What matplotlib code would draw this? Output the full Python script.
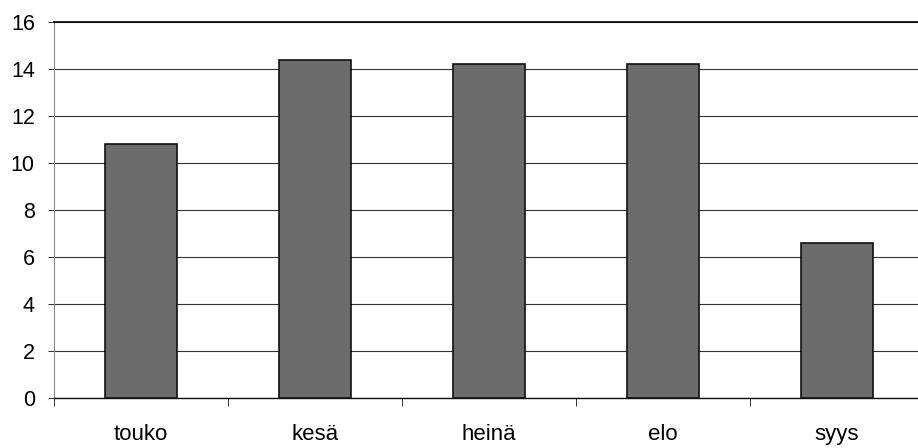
import matplotlib
matplotlib.use("Agg")
import matplotlib.pyplot as plt
import numpy as np

categories = ["touko", "kesä", "heinä", "elo", "syys"]
values = [10.8, 14.4, 14.2, 14.2, 6.6]
yticks = [0, 2, 4, 6, 8, 10, 12, 14, 16]

plt.rcParams['font.family'] = ['Liberation Sans', 'DejaVu Sans']

W, H = 918, 448
fig = plt.figure(figsize=(W/100, H/100), dpi=100)
left, right, top, bottom = 54, 918, 22, 398
ax = fig.add_axes([left/W, 1-bottom/H, (right-left)/W, (bottom-top)/H])

x = np.arange(len(categories))
ax.bar(x, values, width=0.41, color='#6c6c6c', edgecolor='#111111', linewidth=1.2, zorder=3)

span = (right - left) / 174.0
ax.set_xlim(-0.5, -0.5 + span)
ax.set_ylim(0, 16)
ax.set_yticks(yticks)
ax.set_yticklabels([str(v) for v in yticks])
ax.yaxis.grid(True, color='#333333', linewidth=0.8, zorder=0)
ax.set_axisbelow(True)

ax.set_xticks(x)
ax.set_xticklabels(categories)
ax.set_xticks(np.arange(len(categories)) - 0.5, minor=True)
ax.tick_params(axis='x', which='major', length=0, pad=18.5, labelsize=16)
ax.tick_params(axis='x', which='minor', length=5.8, width=0.7, direction='out', color='#333333')
ax.tick_params(axis='y', length=4.3, width=0.7, direction='out', pad=9.5, labelsize=15.5, color='#333333')

ax.spines['right'].set_visible(False)
ax.spines['top'].set_color('#111111')
ax.spines['top'].set_linewidth(1.3)
ax.spines['left'].set_color('#888888')
ax.spines['left'].set_linewidth(0.8)
ax.spines['bottom'].set_color('#111111')
ax.spines['bottom'].set_linewidth(1.0)

fig.savefig("out.png", dpi=100)
